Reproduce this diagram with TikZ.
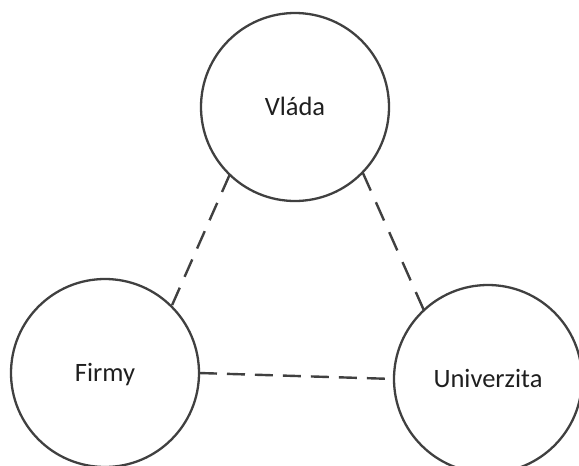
\documentclass[tikz,border=0pt]{standalone}
\usepackage{fontspec}
\setmainfont{Carlito}
\begin{document}
\begin{tikzpicture}[x=1pt,y=-1pt,
  agent/.style={circle,draw=black!75,line width=2.3pt,minimum size=188pt,inner sep=0pt,outer sep=0pt,
    font=\fontsize{26.5}{30}\selectfont,text=black!88,text height=17pt,text depth=0pt},
  link/.style={draw=black!75,line width=2.4pt}]
\useasboundingbox (0,0) rectangle (579,466);
\node[agent] (V) at (295,107) {Vláda};
\node[agent] (F) at (105,373) {Firmy};
\node[agent] (U) at (488,379) {Univerzita};
\draw[link,dash pattern=on 19pt off 11.9pt] (V.-134) -- (F.45);
\draw[link,dash pattern=on 20pt off 12.75pt] (V.-44) -- (U.133);
\draw[link,dash pattern=on 18pt off 10pt,shorten >=9pt] (F.east) -- (U.west);
\end{tikzpicture}
\end{document}
